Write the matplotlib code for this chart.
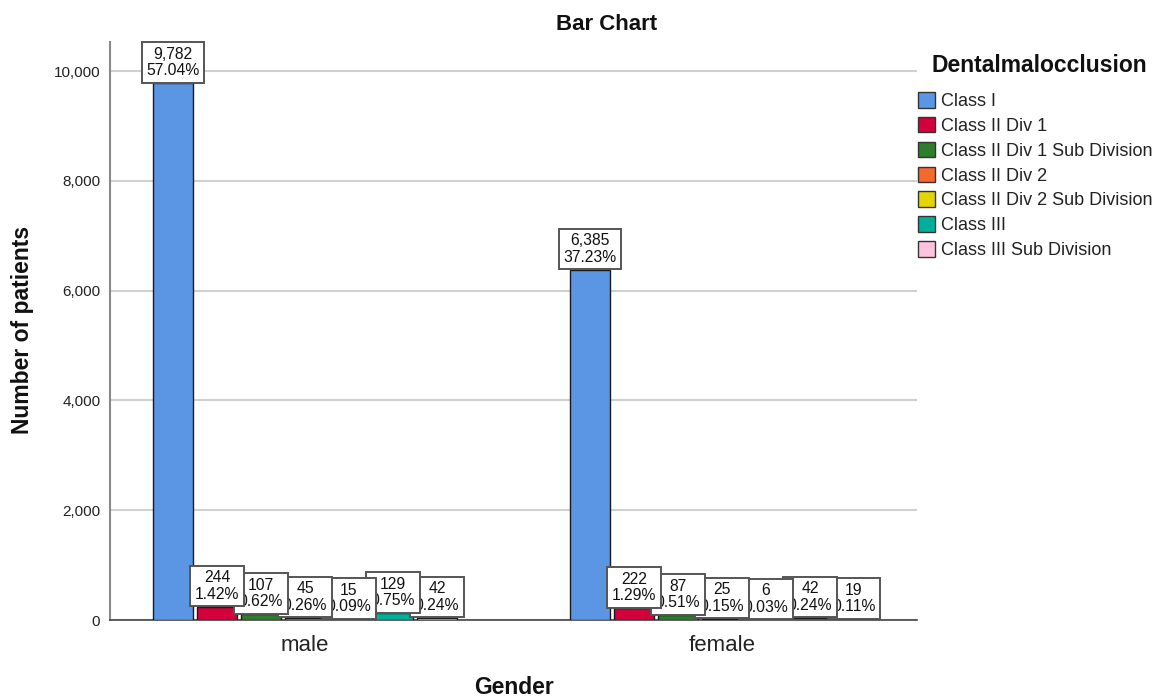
import matplotlib
matplotlib.use("Agg")
import matplotlib.pyplot as plt
from matplotlib.patches import Patch
import numpy as np

plt.rcParams['font.family'] = ['Liberation Sans', 'DejaVu Sans']

genders = ["male", "female"]
classes = ["Class I", "Class II Div 1", "Class II Div 1 Sub Division", "Class II Div 2",
           "Class II Div 2 Sub Division", "Class III", "Class III Sub Division"]
male_counts = [9782, 244, 107, 45, 15, 129, 42]
female_counts = [6385, 222, 87, 25, 6, 42, 19]
male_pct = ["57.04%", "1.42%", "0.62%", "0.26%", "0.09%", "0.75%", "0.24%"]
female_pct = ["37.23%", "1.29%", "0.51%", "0.15%", "0.03%", "0.24%", "0.11%"]
colors = ["#5A96E3", "#D3003B", "#2E7D2A", "#F5692C", "#E4D500", "#00AF99", "#FFC3E0"]

counts = [male_counts, female_counts]
pcts = [male_pct, female_pct]

fig = plt.figure(figsize=(11.64, 6.98), dpi=100)
ax = fig.add_axes([110/1164, 78/698, (917-110)/1164, (620-42)/698])

pitch = 44/417
width = 40/417
n = len(classes)
x = np.arange(len(genders))

for i, cls in enumerate(classes):
    vals = [counts[g][i] for g in range(len(genders))]
    pos = x + (i - (n-1)/2) * pitch
    ax.bar(pos, vals, width=width, color=colors[i], edgecolor="#1a1a1a", linewidth=1.0, zorder=3)
    for g in range(len(genders)):
        v = counts[g][i]
        label = f"{v:,}\n{pcts[g][i]}"
        ax.annotate(label, xy=(pos[g], v), xytext=(0, 3.6), textcoords="offset points",
                    ha="center", va="bottom", fontsize=11.3, linespacing=1.1, color="#111111",
                    zorder=20 - i,
                    bbox=dict(boxstyle="square,pad=0.3", fc="white", ec="#555555", lw=1.4))

ax.set_xlim(-0.4676, 1.4676)
ax.set_ylim(0, 10530)
ax.set_xticks(x)
ax.set_xticklabels(genders, fontsize=16, color="#222222")
ax.set_yticks([0, 2000, 4000, 6000, 8000, 10000])
ax.set_yticklabels([f"{t:,}" for t in [0, 2000, 4000, 6000, 8000, 10000]], fontsize=11, color="#222222")
ax.tick_params(axis="both", length=0, pad=7)
ax.tick_params(axis="x", pad=11)
ax.yaxis.grid(True, color="#D0D0D0", linewidth=1.5, zorder=0)
ax.set_axisbelow(True)
for s in ["top", "right"]:
    ax.spines[s].set_visible(False)
ax.spines["left"].set_color("#8a8a8a")
ax.spines["left"].set_linewidth(1.5)
ax.spines["bottom"].set_color("#444444")
ax.spines["bottom"].set_linewidth(1.2)

fig.text(23/1164, 1 - 330/698, "Number of patients", rotation=90, ha="center", va="center",
         fontsize=16.5, fontweight="bold", color="#111111")
fig.text(514/1164, 1 - 694/698, "Gender", ha="center", va="baseline",
         fontsize=16.5, fontweight="bold", color="#111111")
fig.text(607/1164, 1 - 24/698, "Bar Chart", ha="center", va="center",
         fontsize=16, fontweight="bold", color="#111111")
fig.text(1039/1164, 1 - 65/698, "Dentalmalocclusion", ha="center", va="center",
         fontsize=16.5, fontweight="bold", color="#111111")

handles = [Patch(facecolor=c, edgecolor="#333333", linewidth=1.0) for c in colors]
leg = fig.legend(handles, classes, loc="upper left", bbox_to_anchor=(918/1164, 1 - 92/698),
                 frameon=False, fontsize=13,
                 handlelength=0.95, handleheight=0.95, handletextpad=0.35,
                 labelspacing=0.38, borderpad=0, borderaxespad=0)
for t in leg.get_texts():
    t.set_color("#222222")

fig.savefig("out.png", dpi=100)
